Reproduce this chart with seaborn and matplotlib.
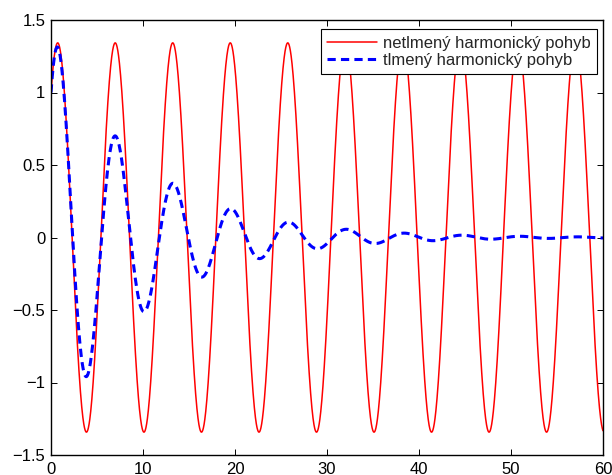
import numpy as np
import pandas as pd
import matplotlib
matplotlib.use("Agg")
import matplotlib.pyplot as plt
import seaborn as sns

# Parameters of the plotted motion
x0 = 1.0          # initial displacement
v0 = 0.9          # initial velocity
omega0 = 1.005    # natural angular frequency (troughs every ~6.25)
damping = 0.1     # decay rate of the damped curve (peaks halve each period)
t_max = 60

series_labels = ["netlmený harmonický pohyb", "tlmený harmonický pohyb"]
x_ticks = [0, 10, 20, 30, 40, 50, 60]
y_ticks = [-1.5, -1, -0.5, 0, 0.5, 1, 1.5]
y_tick_labels = ["\u22121.5", "\u22121", "\u22120.5", "0", "0.5", "1", "1.5"]

t = np.linspace(0, t_max, 3001)
undamped = x0 * np.cos(omega0 * t) + v0 / omega0 * np.sin(omega0 * t)
wd = np.sqrt(omega0**2 - damping**2)
damped = np.exp(-damping * t) * (x0 * np.cos(wd * t) + (v0 + damping * x0) / wd * np.sin(wd * t))

sns.set_theme(style="white")
plt.rcParams["font.family"] = ["Liberation Sans", "DejaVu Sans"]

fig = plt.figure(figsize=(6.12, 4.75), dpi=100)
ax = fig.add_axes([51 / 612, 20 / 475, 552 / 612, 435 / 475])

sns.lineplot(x=t, y=undamped, ax=ax, color="#ff0000", lw=1.1, label=series_labels[0], sort=False)
sns.lineplot(x=t, y=damped, ax=ax, color="#0000ff", lw=2.2, label=series_labels[1], sort=False)
ax.lines[1].set_dashes([2.7, 1.7])

ax.set_xlim(0, 60)
ax.set_ylim(-1.5, 1.5)
ax.set_xticks(x_ticks)
ax.set_xticklabels([str(v) for v in x_ticks])
ax.set_yticks(y_ticks)
ax.set_yticklabels(y_tick_labels)
ax.tick_params(direction="in", length=4, width=0.7, colors="black", labelsize=12,
               top=True, right=True, bottom=True, left=True, pad=4)
ax.tick_params(axis="x", pad=5)
for s in ax.spines.values():
    s.set_color("black")
    s.set_linewidth(1.0)
    s.set_visible(True)

leg = ax.legend(loc="upper right", bbox_to_anchor=(0.990, 0.979), frameon=True, fancybox=False,
                edgecolor="black", framealpha=1, fontsize=12, handlelength=3.0,
                handletextpad=0.35, borderpad=0.4, labelspacing=0.12, borderaxespad=0)
leg.get_frame().set_linewidth(0.8)

fig.savefig("out.png", dpi=100)
